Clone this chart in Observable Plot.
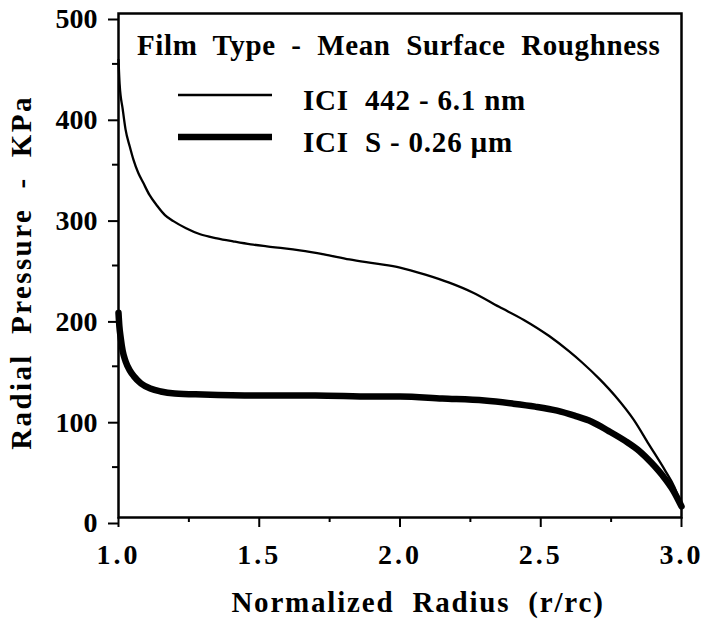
<!DOCTYPE html>
<html>
<head>
<meta charset="utf-8">
<script src="https://cdn.jsdelivr.net/npm/d3@7"></script>
<script src="https://cdn.jsdelivr.net/npm/@observablehq/plot@0.6"></script>
<style>
  html, body { margin: 0; padding: 0; background: #fff; }
  #chart { position: relative; width: 710px; height: 619px; }
  svg [aria-label="x-axis tick label"] text { letter-spacing: 3px; }
  svg text { white-space: pre; }
</style>
</head>
<body>
<div id="chart"></div>
<script>
// ---- Data ----
const xLabel = "Normalized  Radius  (r/rc)";
const yLabel = "Radial  Pressure  -  KPa";
const legendTitle = "Film  Type  -  Mean  Surface  Roughness";
const seriesNames = ["ICI  442 - 6.1 nm", "ICI  S - 0.26 \u00b5m"];

const xMajorTicks = [1.0, 1.5, 2.0, 2.5, 3.0];
const xMinorTicks = [1.25, 1.75, 2.25, 2.75];
const yMajorTicks = [0, 100, 200, 300, 400, 500];
const yMinorTicks = [50, 150, 250, 350, 450];

// ICI 442 - 6.1 nm (thin line)
const x442 = [1.000, 1.004, 1.015, 1.025, 1.040, 1.053, 1.070, 1.088, 1.110, 1.138, 1.165, 1.195, 1.240, 1.290, 1.350, 1.407, 1.470, 1.527, 1.590, 1.644, 1.730, 1.820, 1.910, 2.000, 2.090, 2.175, 2.260, 2.352, 2.440, 2.530, 2.600, 2.646, 2.710, 2.766, 2.830, 2.883, 2.943, 2.975, 3.000];
const y442 = [454, 430, 405, 385, 368, 355, 342, 332, 320, 309, 300, 294, 287, 281, 277, 274, 271, 269, 267, 265, 261, 256, 252, 248, 241, 233, 223, 209, 196, 180, 165, 154, 137, 120, 97, 73, 46, 30, 11];

// ICI S - 0.26 um (thick line)
const xS = [1.000, 1.003, 1.008, 1.015, 1.025, 1.040, 1.055, 1.080, 1.113, 1.150, 1.200, 1.300, 1.500, 1.700, 1.900, 2.000, 2.150, 2.300, 2.400, 2.480, 2.558, 2.620, 2.681, 2.740, 2.800, 2.850, 2.894, 2.940, 2.970, 3.000];
const yS = [203, 190, 178, 165, 155, 146, 140, 133, 128, 125, 123, 122, 121, 121, 120, 120, 118, 116, 113, 110, 106, 101, 95, 86, 76, 66, 54, 39, 27, 11];

const thin = x442.map((x, i) => ({x, y: y442[i]}));
const thick = xS.map((x, i) => ({x, y: yS[i]}));

const font = "Liberation Serif, Times New Roman, serif";

const chart = Plot.plot({
  width: 710,
  height: 619,
  marginLeft: 118,
  marginRight: 29,
  marginTop: 13,
  marginBottom: 102,
  style: {fontFamily: font, fontWeight: "bold", fontSize: "28px", color: "#000", background: "#fff"},
  x: {domain: [1, 3]},
  y: {domain: [0, 500]},
  marks: [
    Plot.frame({stroke: "#000", strokeWidth: 2.5}),
    Plot.axisX({ticks: xMinorTicks, tickSize: 5, strokeWidth: 2, tickFormat: () => "", label: null}),
    Plot.axisX({ticks: xMajorTicks, tickSize: 10, tickPadding: 17, strokeWidth: 2, tickFormat: d => d.toFixed(1), label: null, fontSize: 28}),
    Plot.axisY({ticks: yMinorTicks, tickSize: 6, strokeWidth: 2, tickFormat: () => "", label: null}),
    Plot.axisY({ticks: yMajorTicks, tickSize: 10, tickPadding: 11, strokeWidth: 2, dy: 6, tickFormat: d => String(d), label: null, fontSize: 28}),
    Plot.line(thin, {x: "x", y: "y", stroke: "#000", strokeWidth: 2.3, curve: "monotone-x"}),
    Plot.line(thick, {x: "x", y: "y", stroke: "#000", strokeWidth: 6.5, curve: "monotone-x"}),
    Plot.text([xLabel], {frameAnchor: "bottom", text: d => d, textAnchor: "middle", dx: 18, dy: 85, lineAnchor: "middle", fontSize: 29, fontWeight: "bold"}),
    Plot.text([yLabel], {frameAnchor: "left", text: d => d, textAnchor: "middle", rotate: -90, dx: -97, dy: 7, lineAnchor: "middle", fontSize: 29, fontWeight: "bold"})
  ]
});

// Legend drawn inside the plot frame
const svg = d3.select(chart);
const lg = svg.append("g").attr("font-family", font).attr("font-weight", "bold").attr("font-size", 29)
  .attr("fill", "#000").attr("text-anchor", "start");
lg.append("text").attr("x", 137).attr("y", 55).style("white-space", "pre").style("letter-spacing", "0.6px").text(legendTitle);
const widths = [2.3, 6.5];
const rowY = [95, 137];
seriesNames.forEach((name, i) => {
  lg.append("line").attr("x1", 178).attr("x2", 272).attr("y1", rowY[i]).attr("y2", rowY[i])
    .attr("stroke", "#000").attr("stroke-width", widths[i]);
  lg.append("text").attr("x", 303).attr("y", rowY[i] + 15).style("white-space", "pre").style("letter-spacing", "0.8px").text(name);
});

document.getElementById("chart").appendChild(chart);

// letter spacing for the axis titles
svg.selectAll("text").filter(function() { return this.textContent === xLabel; }).style("letter-spacing", "1.8px");
svg.selectAll("text").filter(function() { return this.textContent === yLabel; }).style("letter-spacing", "2.4px");
</script>
</body>
</html>
